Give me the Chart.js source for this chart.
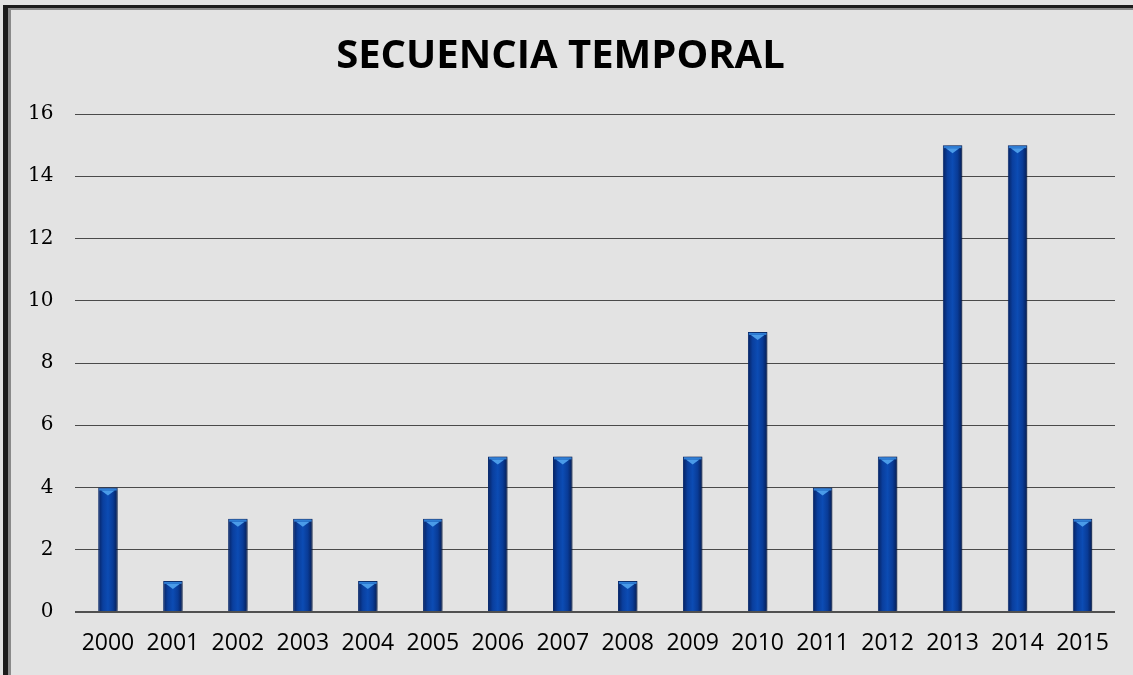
<!DOCTYPE html>
<html>
<head>
<meta charset="utf-8">
<script src="https://cdn.jsdelivr.net/npm/chart.js@4.4.1/dist/chart.umd.min.js"></script>
<style>
  html, body { margin: 0; padding: 0; background: #e3e3e3; overflow: hidden; }
  .wrap { position: relative; width: 1133px; height: 675px; overflow: hidden; }
  .frame { position: absolute; left: 3px; top: 5px; right: -10px; bottom: -10px;
           border-left: 5px solid #1c1c1c; border-top: 3px solid #1c1c1c;
           box-shadow: inset 3px 2px 0 #8a8a8a; pointer-events: none; }
</style>
</head>
<body>
<div class="wrap">
  <canvas class="chart-js" width="1133" height="675"></canvas>
  <div class="frame"></div>
</div>
<script>
const ctx = document.querySelector('.chart-js').getContext('2d');

const years = ['2000', '2001', '2002', '2003', '2004', '2005', '2006', '2007',
               '2008', '2009', '2010', '2011', '2012', '2013', '2014', '2015'];
const counts = [4, 1, 3, 3, 1, 3, 5, 5, 1, 5, 9, 4, 5, 15, 15, 3];
const Y_MAX = 16;
const Y_STEP = 2;

// horizontal gradient per bar, dark edges and lighter middle
function barFill(context) {
    const chart = context.chart;
    if (!chart.chartArea) return '#0a3d94';
    const x = chart.scales.x.getPixelForValue(context.dataIndex);
    const w = 20;
    const g = chart.ctx.createLinearGradient(x - w / 2, 0, x + w / 2, 0);
    g.addColorStop(0, '#061f5c');
    g.addColorStop(0.25, '#0a3f9e');
    g.addColorStop(0.5, '#0c4cb4');
    g.addColorStop(0.75, '#093b96');
    g.addColorStop(1, '#051a4e');
    return g;
}

// soft shadow on the right of the bars + light bevel cap on top
const barStyle = {
    id: 'barStyle',
    beforeDatasetDraw(chart) {
        const c = chart.ctx;
        c.save();
        c.shadowColor = 'rgba(0,0,0,0.35)';
        c.shadowBlur = 4;
        c.shadowOffsetX = 3;
        c.shadowOffsetY = 0;
    },
    afterDatasetDraw(chart, args) {
        const c = chart.ctx;
        c.restore();
        const meta = chart.getDatasetMeta(args.index);
        meta.data.forEach(bar => {
            const left = bar.x - bar.width / 2 + 1;
            const right = bar.x + bar.width / 2 - 1;
            const top = bar.y + 1;
            c.save();
            c.fillStyle = '#2f7fd6';
            c.fillRect(left, top, right - left, 2);
            c.beginPath();
            c.moveTo(left + 2, top + 2);
            c.lineTo(right - 2, top + 2);
            c.lineTo(bar.x, top + 7);
            c.closePath();
            c.fillStyle = '#4a9be8';
            c.fill();
            c.restore();
        });
    }
};

new Chart(ctx, {
    type: 'bar',
    data: {
        labels: years,
        datasets: [{
            data: counts,
            backgroundColor: barFill,
            borderColor: '#082a6e',
            borderWidth: 1,
            barPercentage: 0.3,
            categoryPercentage: 1,
        }]
    },
    plugins: [barStyle],
    options: {
        responsive: false,
        animation: false,
        layout: { padding: { left: 6, right: 18, top: 0, bottom: 0 } },
        plugins: {
            legend: { display: false },
            tooltip: { enabled: false },
            title: {
                display: true,
                text: 'SECUENCIA TEMPORAL',
                color: '#000',
                font: { family: '"Open Sans"', size: 40, weight: 'bold' },
                padding: { top: 33, bottom: 33 }
            }
        },
        scales: {
            x: {
                grid: { display: false, drawTicks: false },
                border: { display: false },
                ticks: {
                    color: '#000',
                    padding: 20,
                    maxRotation: 0,
                    autoSkip: false,
                    font: { family: '"Open Sans"', size: 23, lineHeight: 1 }
                }
            },
            y: {
                min: 0,
                max: Y_MAX,
                grid: {
                    drawTicks: false,
                    color: ctx => ctx.tick.value === 0 ? '#505050' : '#4a4a4a',
                    lineWidth: ctx => ctx.tick.value === 0 ? 2 : 1
                },
                border: { display: false },
                ticks: {
                    stepSize: Y_STEP,
                    color: '#000',
                    padding: 22,
                    font: { family: '"DejaVu Serif"', size: 20 }
                }
            }
        }
    }
});
</script>
</body>
</html>
